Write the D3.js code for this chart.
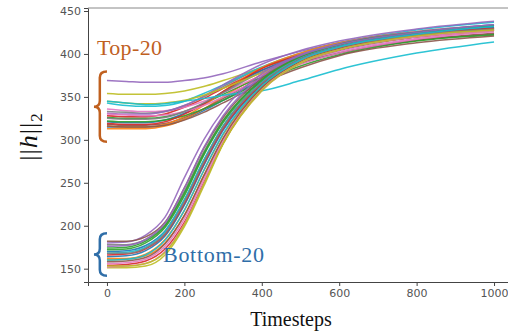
<!DOCTYPE html>
<html>
<head>
<meta charset="utf-8">
<script src="https://cdn.jsdelivr.net/npm/d3@7"></script>
<style>
  body { margin: 0; background: #fff; }
  svg { display: block; }
  .tick text { font-family: "DejaVu Sans", sans-serif; font-size: 11px; fill: #555; }
  .tick line { stroke: #444; }
  .serif { font-family: "Liberation Serif", "DejaVu Serif", serif; }
</style>
</head>
<body>
<figure id="chart" style="margin:0"></figure>
<script>
const timesteps = [0, 50, 100, 150, 200, 250, 300, 400, 500, 600, 800, 1000]

// top-20 norms (highest at t=0)
const top20 = [
  [315,315,315,317,324,334,346,370,390,404,420,429],
  [313,313,313,316,324,336,350,376,394,407,421,428],
  [326,325,325,327,333,342,353,373,389,401,416,423],
  [328,327,327,330,338,348,360,381,396,407,420,427],
  [369,368,367,367,369,372,377,391,403,413,425,432],
  [318,317,317,319,326,336,348,372,389,401,416,424],
  [336,334,333,334,338,345,355,375,391,403,418,426],
  [333,332,331,333,340,350,362,384,399,410,423,430],
  [354,353,353,354,357,362,369,384,398,409,423,431],
  [343,340,339,340,345,354,364,385,401,413,428,437],
  [321,320,320,323,331,342,356,381,398,410,425,434],
  [316,315,315,318,327,340,356,384,401,413,426,433],
  [322,321,321,323,328,336,346,368,386,399,415,422],
  [319,318,318,321,330,342,356,383,399,411,424,430],
  [331,330,330,333,340,351,364,388,404,415,429,438],
  [316,315,315,317,323,332,343,366,384,398,413,421],
  [330,329,328,329,333,340,350,371,388,401,417,426],
  [325,324,324,326,333,343,355,379,395,407,421,429],
  [345,343,342,343,346,352,360,378,393,405,420,428],
  [345,343,341,342,345,348,352,357,369,382,401,414]
]

// bottom-20 norms (lowest at t=0)
const bottom20 = [
  [170,171,177,194,230,276,316,366,394,408,422,430],
  [160,161,165,180,212,258,301,360,391,406,421,428],
  [172,173,180,198,235,282,320,369,396,410,424,432],
  [154,155,159,173,204,250,296,358,390,405,420,428],
  [180,181,189,210,256,300,334,377,399,412,426,434],
  [182,182,187,204,244,290,326,372,397,410,424,431],
  [156,157,161,176,208,254,299,359,390,406,421,429],
  [178,178,184,201,240,286,323,370,396,409,423,430],
  [151,151,153,166,199,246,295,357,389,405,420,427],
  [168,169,175,193,230,276,316,367,395,409,424,433],
  [164,165,171,188,224,270,311,364,393,408,423,431],
  [162,162,167,184,218,264,306,362,392,407,422,429],
  [174,175,182,200,238,284,322,370,397,411,425,433],
  [166,167,173,190,226,272,313,365,394,408,423,430],
  [176,177,184,203,244,291,328,374,398,411,425,434],
  [158,159,163,179,212,258,302,361,391,406,421,428],
  [152,153,156,170,202,249,297,358,390,405,420,427],
  [168,168,174,191,228,274,315,366,394,408,422,429],
  [153,153,156,169,201,248,296,358,390,405,421,428],
  [160,161,166,183,218,264,307,363,393,408,423,432]
]

const xTicks = [0, 200, 400, 600, 800, 1000]
const yTicks = [150, 200, 250, 300, 350, 400, 450]

const width = 508, height = 331
const mLeft = 88, mRight = 513, mTop = 8, mBottom = 282

const svg = d3.select("figure#chart")
  .append("svg")
  .attr("width", width)
  .attr("height", height)

const x = d3.scaleLinear().domain([-49, 1049]).range([mLeft, mRight])
const y = d3.scaleLinear().domain([134.5, 453.5]).range([mBottom, mTop])
const color = d3.scaleOrdinal(d3.schemeCategory10)

// lines
const line = d3.line()
  .x((d, i) => x(timesteps[i]))
  .y(d => y(d))
  .curve(d3.curveMonotoneX)

const all = top20.concat(bottom20)
svg.append("g")
  .selectAll("path")
  .data(all)
  .enter()
  .append("path")
  .attr("d", line)
  .attr("fill", "none")
  .attr("stroke", (d, i) => color(i % 10))
  .attr("stroke-width", 1.5)
  .attr("stroke-opacity", 0.9)

// axes
svg.append("g")
  .attr("transform", "translate(0," + mBottom + ")")
  .call(d3.axisBottom(x).tickValues(xTicks).tickSize(4).tickPadding(3).tickFormat(d3.format("d")))
  .call(g => g.select(".domain").attr("stroke", "#444"))

svg.append("g")
  .attr("transform", "translate(" + mLeft + ",0)")
  .call(d3.axisLeft(y).tickValues(yTicks).tickSize(4).tickPadding(3))
  .call(g => g.select(".domain").attr("stroke", "#444"))

// top spine
svg.append("line")
  .attr("x1", mLeft).attr("x2", mRight)
  .attr("y1", mTop).attr("y2", mTop)
  .attr("stroke", "#888")

// braces
function brace(xr, y1, y2, w) {
  const ym = (y1 + y2) / 2
  const xm = xr - w * 0.55
  const xt = xr - w
  const q = 6
  return "M" + xr + "," + y1 +
    " Q" + xm + "," + y1 + " " + xm + "," + (y1 + q) +
    " L" + xm + "," + (ym - q) +
    " Q" + xm + "," + ym + " " + xt + "," + ym +
    " Q" + xm + "," + ym + " " + xm + "," + (ym + q) +
    " L" + xm + "," + (y2 - q) +
    " Q" + xm + "," + y2 + " " + xr + "," + y2
}

const topStart = d3.extent(top20, d => d[0])
const botStart = d3.extent(bottom20, d => d[0])

svg.append("path")
  .attr("d", brace(x(0), y(topStart[1]) - 9, y(topStart[0]) + 13, 13))
  .attr("fill", "none")
  .attr("stroke", "#c0601f")
  .attr("stroke-width", 2.5)

svg.append("path")
  .attr("d", brace(x(0), y(botStart[1]) - 8, y(botStart[0]) + 8, 13))
  .attr("fill", "none")
  .attr("stroke", "#2f6ea8")
  .attr("stroke-width", 2.5)

// annotations
svg.append("text")
  .attr("class", "serif")
  .attr("x", 97).attr("y", 55)
  .attr("font-size", 22)
  .attr("fill", "#c0601f")
  .attr("textLength", 65)
  .text("Top-20")

svg.append("text")
  .attr("class", "serif")
  .attr("x", 163).attr("y", 262)
  .attr("font-size", 22)
  .attr("fill", "#2f6ea8")
  .attr("textLength", 101)
  .text("Bottom-20")

// axis labels
svg.append("text")
  .attr("class", "serif")
  .attr("x", 291).attr("y", 326)
  .attr("text-anchor", "middle")
  .attr("font-size", 20)
  .attr("fill", "#111")
  .text("Timesteps")

const ylab = svg.append("text")
  .attr("class", "serif")
  .attr("transform", "translate(37,137) rotate(-90)")
  .attr("text-anchor", "middle")
  .attr("font-size", 26)
  .attr("fill", "#111")
ylab.append("tspan").attr("letter-spacing", 1).text("||")
ylab.append("tspan").attr("font-style", "italic").text("h")
ylab.append("tspan").attr("letter-spacing", 1).attr("dx", 1).text("||")
ylab.append("tspan").attr("font-size", 17).attr("dy", 5).text("2")
</script>
</body>
</html>
